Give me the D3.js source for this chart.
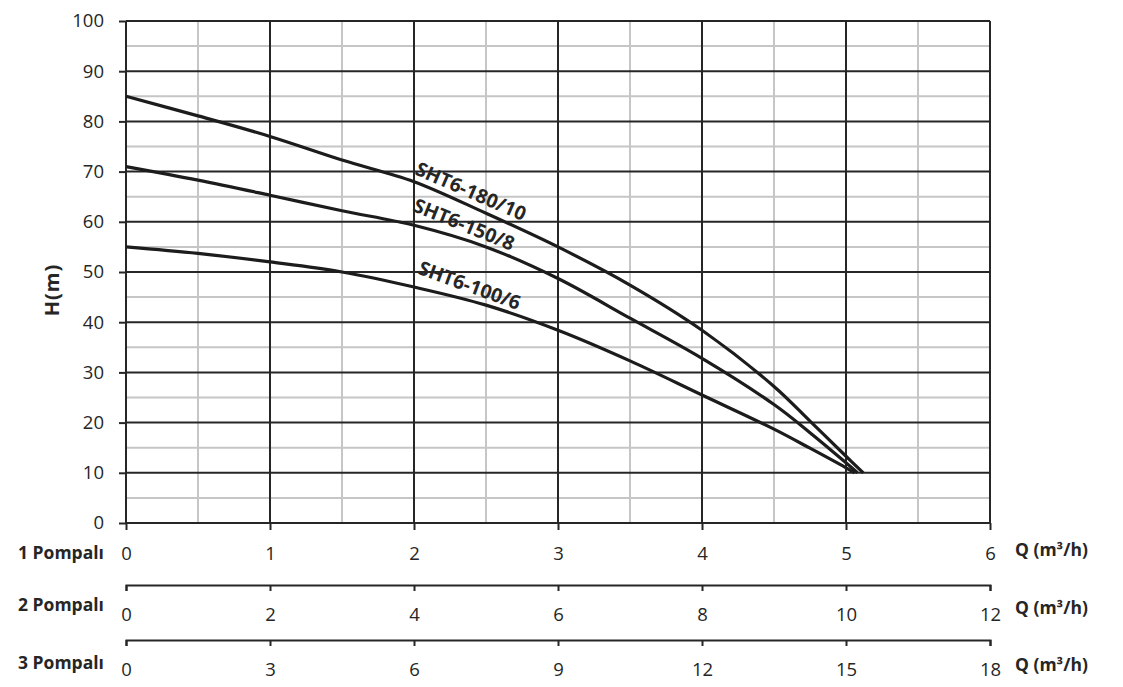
<!DOCTYPE html>
<html>
<head>
<meta charset="utf-8">
<script src="https://cdn.jsdelivr.net/npm/d3@7"></script>
<style>
  html, body { margin: 0; padding: 0; background: #fff; }
  svg { display: block; }
  text { font-family: "Open Sans", sans-serif; fill: #262626; }
</style>
</head>
<body>
<svg id="chart" width="1123" height="687"></svg>
<script>
// ---- data ----
const q180 = [0, 0.5, 1, 1.5, 2, 2.5, 3, 3.5, 4, 4.5, 4.75, 5, 5.12];
const h180 = [85, 81.1, 77, 72.3, 68, 61.7, 55, 47.4, 38.4, 27.2, 20.3, 13.3, 10];
const q150 = [0, 0.5, 1, 1.5, 2, 2.5, 3, 3.5, 4, 4.5, 4.75, 5, 5.08];
const h150 = [71, 68.3, 65.3, 62.2, 59.3, 55, 48.7, 40.8, 32.8, 23.6, 18, 12, 10];
const q100 = [0, 0.5, 1, 1.5, 2, 2.5, 3, 3.5, 4, 4.5, 4.75, 5, 5.06];
const h100 = [55, 53.7, 52, 50, 47, 43.4, 38.4, 32.3, 25.5, 18.7, 14.9, 11, 10];
const seriesNames = ["SHT6-180/10", "SHT6-150/8", "SHT6-100/6"];
const labelQ = [2.0, 1.985, 2.02];
const labelH = [69.5, 62.2, 49.7];
const labelAngle = [23.5, 22, 20];
const yTicks = [0, 10, 20, 30, 40, 50, 60, 70, 80, 90, 100];
const q1Ticks = [0, 1, 2, 3, 4, 5, 6];
const q2Ticks = [0, 2, 4, 6, 8, 10, 12];
const q3Ticks = [0, 3, 6, 9, 12, 15, 18];
const pumpLabels = ["1 Pompalı", "2 Pompalı", "3 Pompalı"];
const yTitle = "H(m)";
const qTitle = "Q (m³/h)";

// ---- layout ----
const svg = d3.select("#chart");
const x = d3.scaleLinear().domain([0, 6]).range([126, 990]);
const x2 = d3.scaleLinear().domain([0, 12]).range([126, 990]);
const x3 = d3.scaleLinear().domain([0, 18]).range([126, 990]);
const y = d3.scaleLinear().domain([0, 100]).range([523, 21]);
const dark = "#262626", light = "#c6c6c6";
const fmt = d3.format("d");

// grid
const g = svg.append("g");
const minorX = d3.range(0.5, 6, 1);
const minorY = d3.range(5, 100, 10);
g.selectAll(".mx").data(minorX).join("line").attr("class", "mx")
  .attr("x1", d => x(d)).attr("x2", d => x(d)).attr("y1", y(0)).attr("y2", y(100))
  .attr("stroke", light).attr("stroke-width", 2);
g.selectAll(".my").data(minorY).join("line").attr("class", "my")
  .attr("x1", x(0)).attr("x2", x(6)).attr("y1", d => y(d)).attr("y2", d => y(d))
  .attr("stroke", light).attr("stroke-width", 2);
g.selectAll(".Mx").data(q1Ticks).join("line").attr("class", "Mx")
  .attr("x1", d => x(d)).attr("x2", d => x(d)).attr("y1", y(0)).attr("y2", y(100))
  .attr("stroke", dark).attr("stroke-width", 2);
g.selectAll(".My").data(yTicks).join("line").attr("class", "My")
  .attr("x1", x(0)).attr("x2", x(6)).attr("y1", d => y(d)).attr("y2", d => y(d))
  .attr("stroke", dark).attr("stroke-width", 2);

// axes
function styleAxis(sel, fs) {
  sel.selectAll("path").attr("stroke", dark).attr("stroke-width", 2);
  sel.selectAll("line").attr("stroke", dark).attr("stroke-width", 2);
  sel.selectAll("text").attr("font-family", "Open Sans").attr("font-size", fs).attr("fill", "#262626");
}
const ya = svg.append("g").attr("transform", `translate(${x(0)},0)`)
  .call(d3.axisLeft(y).tickValues(yTicks).tickFormat(fmt).tickSize(7).tickSizeOuter(0).tickPadding(15));
styleAxis(ya, 18.5);
ya.select(".domain").remove();

const xa1 = svg.append("g").attr("transform", `translate(0,${y(0)})`)
  .call(d3.axisBottom(x).tickValues(q1Ticks).tickFormat(fmt).tickSize(7).tickSizeOuter(0).tickPadding(16.5));
styleAxis(xa1, 18.5);
xa1.select(".domain").remove();

const xa2 = svg.append("g").attr("transform", `translate(0,585)`)
  .call(d3.axisBottom(x2).tickValues(q2Ticks).tickFormat(fmt).tickSize(6).tickSizeOuter(6).tickPadding(16.5));
styleAxis(xa2, 18.5);
const xa3 = svg.append("g").attr("transform", `translate(0,640)`)
  .call(d3.axisBottom(x3).tickValues(q3Ticks).tickFormat(fmt).tickSize(6).tickSizeOuter(6).tickPadding(16.5));
styleAxis(xa3, 18.5);

// curves
const curveData = [
  q180.map((q, i) => [q, h180[i]]),
  q150.map((q, i) => [q, h150[i]]),
  q100.map((q, i) => [q, h100[i]])
];
const line = d3.line().x(d => x(d[0])).y(d => y(d[1])).curve(d3.curveCatmullRom.alpha(0.5));
svg.append("g").selectAll("path").data(curveData).join("path")
  .attr("d", line).attr("fill", "none").attr("stroke", "#1c1c1c").attr("stroke-width", 3.2)
  .attr("stroke-linejoin", "round");

// curve labels
svg.append("g").selectAll("text").data(seriesNames).join("text")
  .attr("transform", (d, i) => `translate(${x(labelQ[i])},${y(labelH[i])}) rotate(${labelAngle[i]})`)
  .attr("font-size", 19.5).attr("font-weight", 700).attr("fill", "#262626")
  .text(d => d);

// titles
svg.append("text")
  .attr("transform", `translate(59,290) rotate(-90)`)
  .attr("text-anchor", "middle").attr("font-size", 20).attr("font-weight", 700)
  .attr("letter-spacing", 1)
  .text(yTitle);

const pumpY = [553, 605, 663];
const qY = [550, 608, 665];
svg.append("g").selectAll("text").data(pumpLabels).join("text")
  .attr("x", 18).attr("y", (d, i) => pumpY[i]).attr("dy", "0.35em")
  .attr("font-size", 17.5).attr("font-weight", 700).text(d => d);
svg.append("g").selectAll("text").data(qY).join("text")
  .attr("x", 1015).attr("y", d => d).attr("dy", "0.35em")
  .attr("font-size", 17.5).attr("font-weight", 700).text(qTitle);
</script>
</body>
</html>
